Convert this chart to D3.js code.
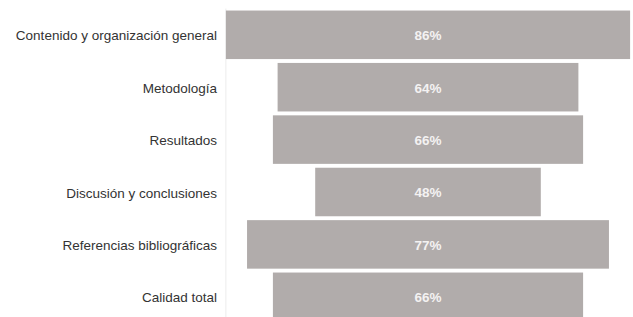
<!DOCTYPE html>
<html lang="es">
<head>
    <meta charset="UTF-8">
    <title>funnel</title>
    <script src="https://cdn.jsdelivr.net/npm/d3@7"></script>
    <style>
        body { margin: 0; background: #fff; }
    </style>
</head>
<body>
    <script>
        const categories = ['Contenido y organización general', 'Metodología', 'Resultados',
                            'Discusión y conclusiones', 'Referencias bibliográficas', 'Calidad total'];
        const values = [86, 64, 66, 48, 77, 66];

        const width = 633,
            height = 317,
            centerX = 428,
            labelX = 217;

        const svg = d3.select('body').append('svg')
                        .attr('width', width)
                        .attr('height', height);

        // escala horizontal: % -> ancho de la barra (centrada)
        const x = d3.scaleLinear().domain([0, 100]).range([0, 470]);
        const y = d3.scaleBand().domain(categories)
                        .range([8.6, 323])
                        .paddingInner(0.074)
                        .paddingOuter(0.037);

        // linea vertical muy clara
        svg.append('line')
            .attr('x1', centerX - x(d3.max(values)) / 2)
            .attr('x2', centerX - x(d3.max(values)) / 2)
            .attr('y1', y(categories[0]) - 2)
            .attr('y2', height)
            .attr('stroke', '#ececec')
            .attr('stroke-width', 1);

        svg.selectAll('.bar').data(values).enter().append('rect')
            .attr('class', 'bar')
            .attr('fill', '#b1acab')
            .attr('x', function(d){
                return centerX - x(d) / 2
            })
            .attr('y', function(d, i){
                return y(categories[i])
            })
            .attr('width', function(d){
                return x(d)
            })
            .attr('height', y.bandwidth());

        svg.selectAll('.valText').data(values).enter().append('text')
            .attr('class', 'valText')
            .attr('fill', '#f4f2f2')
            .attr('font-family', 'Liberation Sans, Arial, sans-serif')
            .attr('font-weight', 'bold')
            .attr('font-size', '13.5px')
            .attr('text-anchor', 'middle')
            .attr('x', centerX)
            .attr('y', function(d, i){
                return y(categories[i]) + y.bandwidth() / 2
            })
            .attr('dy', '0.4em')
            .text(function(d){
                return d + '%'
            });

        svg.selectAll('.catText').data(categories).enter().append('text')
            .attr('class', 'catText')
            .attr('fill', '#333')
            .attr('font-family', 'Liberation Sans, Arial, sans-serif')
            .attr('font-size', '13.5px')
            .attr('text-anchor', 'end')
            .attr('x', labelX)
            .attr('y', function(d){
                return y(d) + y.bandwidth() / 2
            })
            .attr('dy', '0.42em')
            .text(function(d){
                return d
            });
    </script>
</body>
</html>
